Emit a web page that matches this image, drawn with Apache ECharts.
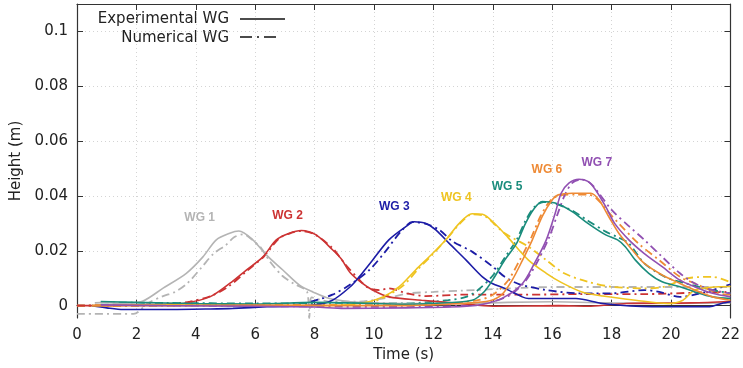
<!DOCTYPE html>
<html>
<head>
<meta charset="utf-8">
<script src="https://cdn.jsdelivr.net/npm/echarts@6/dist/echarts.min.js"></script>
<style>html,body{margin:0;padding:0;background:#fff}#c{width:743px;height:368px}</style>
</head>
<body>
<div id="c"></div>
<script>
// ---- data: [time (s), height (m)] ----
const xTicks = [0, 2, 4, 6, 8, 10, 12, 14, 16, 18, 20, 22];
const yTicks = [0, 0.02, 0.04, 0.06, 0.08, 0.1];

const wg1Exp = [[0.6,0.001],[0.9,0.0012],[1.5,0.0008],[2.2,0.0016],[2.9,0.0064],[3.68,0.0118],[4.24,0.0178],[4.69,0.024],[5.14,0.0264],[5.45,0.0272],[5.92,0.024],[6.37,0.0185],[6.93,0.013],[7.49,0.0075],[7.94,0.005],[8.5,0.0026],[9.5,0.0012],[11,0.0008],[13,0.0008],[14.5,0.0012],[16,0.0014],[18,0.001],[20,0.0008],[22,0.001]];
const wg1Num = [[0,-0.003],[1.9,-0.003],[2.4,0.001],[2.9,0.0035],[3.3,0.005],[3.7,0.008],[4.2,0.014],[4.6,0.019],[5.0,0.022],[5.3,0.025],[5.6,0.026],[5.9,0.024],[6.2,0.021],[6.5,0.016],[6.9,0.011],[7.3,0.008],[7.75,0.005],[7.82,-0.0045],[7.9,0.003],[8.5,0.0015],[9.5,0.0015],[10.5,0.003],[11.2,0.0045],[12,0.005],[13,0.0055],[14,0.006],[15,0.0065],[16,0.0068],[18,0.0068],[20,0.0068],[22,0.0068]];

const wg2Exp = [[0,0],[1,0],[2,0.0003],[3,0.0005],[3.57,0.0008],[4.47,0.0032],[5.14,0.0081],[5.7,0.013],[6.26,0.0178],[6.71,0.024],[7.15,0.0264],[7.55,0.0274],[8.05,0.0258],[8.61,0.0203],[8.9,0.017],[9.2,0.012],[9.6,0.0082],[9.95,0.0057],[10.5,0.0032],[11.6,0.002],[12.9,0.0008],[14,-0.0002],[16.2,0],[17.3,-0.0002],[18.5,0.0008],[20.7,0.001],[22,0.0015]];
const wg2Num = [[0,0],[2,0],[3,0.0005],[3.8,0.0015],[4.5,0.0035],[5.1,0.007],[5.7,0.0125],[6.3,0.018],[6.8,0.0245],[7.2,0.0265],[7.55,0.0272],[8.0,0.026],[8.6,0.021],[9.0,0.0155],[9.5,0.0095],[9.84,0.0063],[10.2,0.0057],[10.5,0.0063],[11.1,0.0045],[11.75,0.0035],[13,0.004],[15,0.004],[17,0.0042],[19,0.0042],[21,0.0048],[22,0.005]];

const wg3Exp = [[0.5,0],[1.0,-0.0008],[1.56,-0.0014],[3,-0.0014],[4.5,-0.0012],[5.25,-0.001],[6.4,-0.0004],[7.94,0.0002],[8.6,0.002],[9.2,0.0069],[9.5,0.0105],[9.95,0.0166],[10.5,0.024],[11.07,0.0288],[11.35,0.0306],[11.75,0.030],[12.08,0.0276],[12.53,0.0227],[13.1,0.0166],[13.65,0.0105],[13.98,0.0081],[14.4,0.0063],[14.99,0.0032],[15.2,0.0026],[16.8,0.0026],[17.7,0.0008],[19.35,-0.0004],[21.3,-0.0004],[21.7,0.0008],[22,0.0014]];
const wg3Num = [[0,0],[2,0],[4,0.0002],[6,0.0002],[7.5,0.0005],[8.05,0.002],[8.6,0.004],[9.17,0.0075],[9.84,0.013],[10.4,0.02],[10.9,0.027],[11.3,0.0305],[11.75,0.0298],[12.2,0.0276],[12.64,0.0235],[13.3,0.0197],[14,0.0142],[14.4,0.0105],[14.9,0.0078],[15.8,0.0057],[16.9,0.0045],[18,0.0045],[19.1,0.0057],[19.6,0.005],[20.3,0.0032],[20.8,0.004],[21.4,0.0057],[22,0.0078]];

const wg4Exp = [[0.5,0],[3,0.0003],[6,0],[8,0],[9.5,0.0008],[10.3,0.0032],[10.85,0.0069],[11.4,0.013],[11.97,0.019],[12.42,0.024],[12.87,0.030],[13.3,0.0335],[13.65,0.0333],[14.1,0.0295],[14.5,0.025],[15.2,0.0166],[15.8,0.0118],[16.3,0.0085],[17.0,0.005],[17.7,0.0035],[18.8,0.002],[19.9,0.0008],[20.4,0.002],[20.8,0.0057],[21.6,0.0069],[22,0.007]];
const wg4Num = [[0,0],[3,0],[6,0.0002],[8,0.0002],[9.5,0.0005],[10.0,0.0015],[10.5,0.004],[11.0,0.0075],[11.5,0.0135],[12.0,0.019],[12.5,0.025],[12.9,0.030],[13.3,0.0333],[13.7,0.0328],[13.9,0.0313],[14.4,0.0264],[15.2,0.0215],[15.8,0.0166],[16.4,0.0118],[17.2,0.0087],[18,0.0069],[19.1,0.0063],[19.8,0.007],[20.5,0.0099],[21.4,0.0105],[22,0.0085]];

const wg5Exp = [[0.8,0.0015],[2,0.0012],[4,0.0008],[6,0.0006],[8,0.0012],[10,0.0008],[11,0.0005],[12,0.0008],[13.3,0.002],[13.7,0.005],[14,0.0095],[14.4,0.0166],[14.8,0.0227],[15.1,0.030],[15.4,0.0355],[15.66,0.038],[16.1,0.0374],[16.67,0.0343],[17.2,0.030],[17.8,0.0258],[18.2,0.024],[18.46,0.0215],[18.8,0.0166],[19.25,0.0118],[19.7,0.0087],[20.3,0.0069],[20.8,0.005],[21.4,0.0032],[22,0.0026]];
const wg5Num = [[0.8,0.0012],[3,0.001],[6,0.0008],[9,0.001],[11,0.0008],[12.5,0.002],[13.1,0.0032],[13.5,0.0057],[14,0.011],[14.4,0.0175],[14.8,0.024],[15.1,0.031],[15.4,0.036],[15.7,0.0378],[16.1,0.0372],[16.7,0.0345],[17.2,0.031],[17.8,0.027],[18.2,0.025],[18.58,0.0227],[19.1,0.0154],[19.8,0.0105],[20.5,0.0081],[21.4,0.0057],[22,0.0045]];

const wg6Exp = [[0.5,0],[3,0],[6,0.0002],[9,0],[11,0],[12,0.0003],[13,0.0008],[13.9,0.0018],[14.3,0.004],[14.66,0.0095],[15,0.0166],[15.33,0.024],[15.66,0.0325],[16,0.0386],[16.2,0.0404],[16.67,0.041],[17.3,0.041],[17.57,0.0386],[17.9,0.0325],[18.24,0.0264],[18.7,0.0203],[19.1,0.0154],[19.7,0.0112],[20.3,0.0081],[20.8,0.0057],[21.4,0.0032],[22,0.002]];
const wg6Num = [[0,0],[3,0.0002],[6,0.0002],[9,0.0002],[12,0.0005],[13.5,0.002],[14.0,0.004],[14.5,0.009],[14.9,0.0165],[15.3,0.025],[15.6,0.0325],[15.95,0.0385],[16.3,0.0403],[16.8,0.0405],[17.2,0.0405],[17.5,0.039],[17.9,0.034],[18.24,0.030],[18.9,0.0227],[19.6,0.0166],[20.3,0.0105],[20.8,0.0081],[21.6,0.0045],[22,0.004]];

const wg7Exp = [[0.8,0.0003],[3,0],[6,-0.0002],[8,-0.0005],[9,-0.001],[11,-0.0008],[13,-0.0003],[13.8,0.0008],[14.4,0.0032],[15,0.0081],[15.4,0.0154],[15.8,0.024],[16.1,0.0337],[16.3,0.041],[16.56,0.0447],[16.9,0.0461],[17.2,0.0453],[17.46,0.0422],[17.8,0.0361],[18.1,0.030],[18.58,0.024],[19.1,0.019],[19.7,0.0142],[20.3,0.0093],[20.8,0.0069],[21.4,0.0045],[22,0.0032]];
const wg7Num = [[0.8,0.0002],[4,0],[8,-0.0003],[11,-0.0005],[13,0],[14,0.0015],[14.6,0.004],[15.1,0.009],[15.5,0.016],[15.9,0.025],[16.2,0.034],[16.45,0.041],[16.7,0.045],[17.0,0.046],[17.3,0.0445],[17.57,0.041],[18,0.0349],[18.6,0.0288],[19.1,0.024],[19.7,0.0178],[20.3,0.0118],[20.8,0.0081],[21.4,0.0057],[22,0.0045]];

const gaugeNames = ['WG 1','WG 2','WG 3','WG 4','WG 5','WG 6','WG 7'];
const labelPos = [[4.13,0.032],[7.09,0.0327],[10.68,0.036],[12.77,0.0393],[14.48,0.0433],[15.82,0.0495],[17.5,0.052]];
const legendNames = ['Experimental WG', 'Numerical WG'];

// ---- styling ----
const colors = ['#b4b4b4','#cc3333','#1c1ca6','#efc421','#1a8c7c','#ee8a35','#9150b2'];
const expData = [wg1Exp, wg2Exp, wg3Exp, wg4Exp, wg5Exp, wg6Exp, wg7Exp];
const numData = [wg1Num, wg2Num, wg3Num, wg4Num, wg5Num, wg6Num, wg7Num];
const dashDot = [8, 4, 2, 4];
const FONT = 'DejaVu Sans';

const series = [];
for (let i = 0; i < 7; i++) {
  series.push({
    type: 'line', name: gaugeNames[i] + ' num', data: numData[i], symbol: 'none', smooth: 0.3,
    lineStyle: { color: colors[i], width: 1.8, type: dashDot }, z: 2, silent: true
  });
  series.push({
    type: 'line', name: gaugeNames[i] + ' exp', data: expData[i], symbol: 'none', smooth: 0.3,
    lineStyle: { color: colors[i], width: 1.6, type: 'solid' }, z: 3, silent: true
  });
}
series.push({
  type: 'scatter', symbolSize: 0, silent: true, z: 5,
  itemStyle: { opacity: 1 },
  data: labelPos.map((p, i) => ({
    value: p,
    label: { show: true, position: 'inside', formatter: gaugeNames[i], color: colors[i], opacity: 1,
      fontFamily: 'Liberation Sans', fontWeight: 'bold', fontSize: 12 }
  }))
});

const chart = echarts.init(document.getElementById('c'), null, { renderer: 'canvas' });
const axisCol = '#333';
chart.setOption({
  animation: false,
  backgroundColor: '#fff',
  grid: { left: 77, right: 11, top: 4, bottom: 50 },
  xAxis: [{
    type: 'value', min: 0, max: 22, interval: 2,
    name: 'Time (s)', nameLocation: 'middle', nameGap: 28,
    nameTextStyle: { fontFamily: FONT, fontSize: 15, color: '#222' },
    axisLine: { show: true, lineStyle: { color: axisCol, width: 1.2 } },
    axisTick: { show: true, inside: true, length: 6, lineStyle: { color: axisCol } },
    axisLabel: { fontFamily: FONT, fontSize: 15, color: '#222', margin: 10 },
    splitLine: { show: true, lineStyle: { color: '#d4d4d4', type: [1, 3], width: 1 } }
  }, {
    type: 'value', min: 0, max: 22, interval: 2, position: 'top',
    axisLine: { show: true, onZero: false, lineStyle: { color: axisCol, width: 1.2 } },
    axisTick: { show: true, inside: true, length: 6, lineStyle: { color: axisCol } },
    axisLabel: { show: false }, splitLine: { show: false }
  }],
  yAxis: [{
    type: 'value', min: -0.0045, max: 0.11, splitNumber: 5,
    name: 'Height (m)', nameLocation: 'middle', nameGap: 52,
    nameTextStyle: { fontFamily: FONT, fontSize: 15, color: '#222' },
    axisLine: { show: true, onZero: false, lineStyle: { color: axisCol, width: 1.2 } },
    axisTick: { show: true, inside: true, length: 6, lineStyle: { color: axisCol },
      customValues: yTicks },
    axisLabel: { fontFamily: FONT, fontSize: 15, color: '#222', margin: 9,
      customValues: yTicks, formatter: v => (v === 0 ? '0' : String(+v.toFixed(3))) },
    splitLine: { show: true, lineStyle: { color: '#d4d4d4', type: [1, 3], width: 1 } }
  }, {
    type: 'value', min: -0.0045, max: 0.11, position: 'right',
    axisLine: { show: true, onZero: false, lineStyle: { color: axisCol, width: 1.2 } },
    axisTick: { show: true, inside: true, length: 6, lineStyle: { color: axisCol },
      customValues: yTicks },
    axisLabel: { show: false }, splitLine: { show: false }
  }],
  series: series,
  graphic: [
    { type: 'text', x: 229, y: 19, style: { text: legendNames[0], align: 'right', verticalAlign: 'middle',
      font: '15px "DejaVu Sans"', fill: '#222' } },
    { type: 'line', shape: { x1: 240, y1: 19, x2: 285, y2: 19 }, style: { stroke: '#111', lineWidth: 1.5 } },
    { type: 'text', x: 229, y: 38, style: { text: legendNames[1], align: 'right', verticalAlign: 'middle',
      font: '15px "DejaVu Sans"', fill: '#222' } },
    { type: 'line', shape: { x1: 240, y1: 37, x2: 279, y2: 37 }, style: { stroke: '#111', lineWidth: 1.5, lineDash: [12, 5, 2, 5] } }
  ]
});
</script>
</body>
</html>
